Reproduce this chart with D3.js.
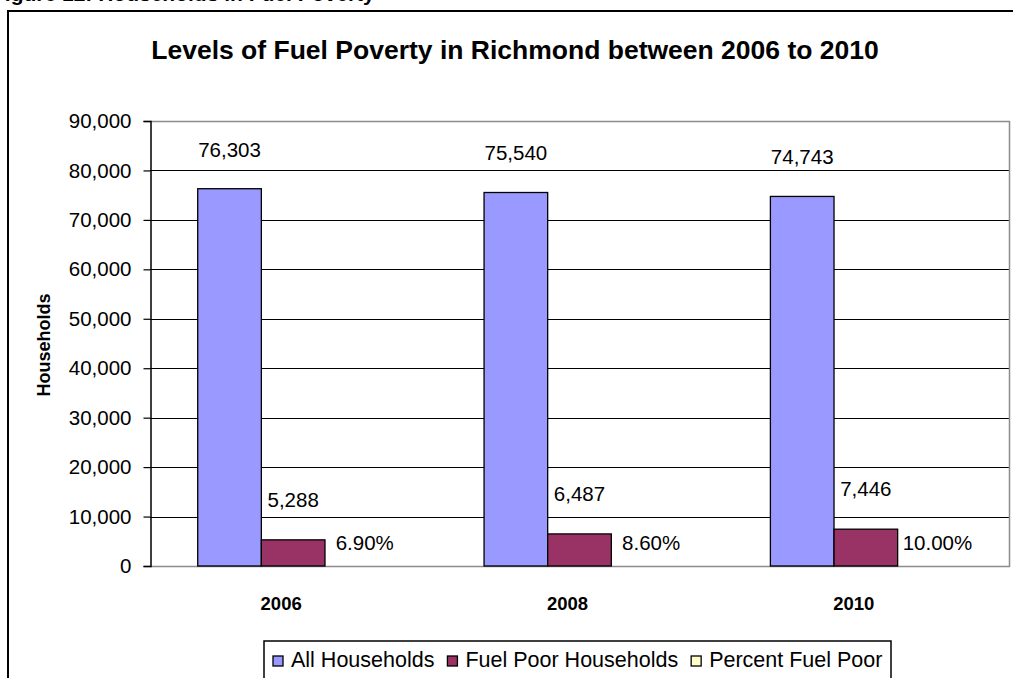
<!DOCTYPE html>
<html>
<head>
<meta charset="utf-8">
<script src="https://cdn.jsdelivr.net/npm/d3@7"></script>
<style>
  html, body { margin: 0; padding: 0; background: #fff; }
  svg { display: block; font-family: Arial, "Liberation Sans", sans-serif; }
</style>
</head>
<body>
<svg id="chart" width="1013" height="678"></svg>
<script>
// Fuel poverty in Richmond, 2006-2010
const years = ["2006", "2008", "2010"];
const allHouseholds = [76303, 75540, 74743];
const fuelPoorHouseholds = [5288, 6487, 7446];
const percentFuelPoor = [0.069, 0.086, 0.10];
const seriesNames = ["All Households", "Fuel Poor Households", "Percent Fuel Poor"];
const seriesColors = ["#9999FF", "#993366", "#FFFFCC"];
const yTicks = [0, 10000, 20000, 30000, 40000, 50000, 60000, 70000, 80000, 90000];

const svg = d3.select("#chart");
const fmtInt = d3.format(",");
const fmtPct = d3.format(".2%");

// page heading fragment above the chart frame
svg.append("text")
  .attr("x", -8).attr("y", 0.5)
  .attr("font-size", 21).attr("font-weight", "bold")
  .text("Figure 12: Households in Fuel Poverty");

// chart frame
svg.append("rect")
  .attr("x", 8).attr("y", 11).attr("width", 1030).attr("height", 700)
  .attr("fill", "#fff").attr("stroke", "#000").attr("stroke-width", 2);

svg.append("text")
  .attr("x", 515).attr("y", 59)
  .attr("text-anchor", "middle")
  .attr("font-size", 26.5).attr("font-weight", "bold")
  .text("Levels of Fuel Poverty in Richmond between 2006 to 2010");

const plot = { left: 150, right: 1009, top: 121, bottom: 566 };

const y = d3.scaleLinear().domain([0, 90000]).range([plot.bottom, plot.top]);
const x = d3.scaleBand().domain(years).range([plot.left, plot.right])
  .paddingInner(1 / 3).paddingOuter(1 / 6);
const xs = d3.scaleBand().domain(d3.range(3)).range([0, x.bandwidth()]);

// gridlines
svg.append("g").selectAll("line")
  .data(yTicks.filter(t => t > 0 && t < 90000))
  .join("line")
  .attr("x1", plot.left).attr("x2", plot.right)
  .attr("y1", d => Math.round(y(d)) + 0.5).attr("y2", d => Math.round(y(d)) + 0.5)
  .attr("stroke", "#000").attr("stroke-width", 1.2);

// plot area border (grey)
svg.append("path")
  .attr("d", `M${plot.left},${plot.top + 0.5}H${plot.right + 0.5}V${plot.bottom + 0.5}H${plot.left}`)
  .attr("fill", "none").attr("stroke", "#8c8c8c").attr("stroke-width", 1.5);

// bars
const rows = years.map((yr, i) => ({
  year: yr,
  values: [allHouseholds[i], fuelPoorHouseholds[i], percentFuelPoor[i]]
}));

const groups = svg.append("g").selectAll("g")
  .data(rows).join("g")
  .attr("transform", d => `translate(${x(d.year)},0)`);

groups.selectAll("rect")
  .data(d => d.values.map((v, k) => ({ v, k })))
  .join("rect")
  .attr("x", d => xs(d.k))
  .attr("y", d => y(d.v))
  .attr("width", xs.bandwidth())
  .attr("height", d => y(0) - y(d.v))
  .attr("fill", d => seriesColors[d.k])
  .attr("stroke", d => (y(0) - y(d.v)) > 1 ? "#000" : "none")
  .attr("stroke-width", 1.3);

// value labels
groups.selectAll("text.val")
  .data(d => d.values.map((v, k) => ({ v, k })))
  .join("text")
  .attr("class", "val")
  .attr("x", d => xs(d.k) + xs.bandwidth() / 2 + (d.k === 2 ? 8 : 0))
  .attr("y", d => y(d.v) - (d.k === 2 ? 16 : (d.k === 0 ? 32 : 33)))
  .attr("text-anchor", "middle")
  .attr("font-size", 20.5)
  .text(d => d.k === 2 ? fmtPct(d.v) : fmtInt(d.v));

// y axis
const yAxis = d3.axisLeft(y).tickValues(yTicks).tickSize(7).tickPadding(12)
  .tickFormat(d3.format(","));
const ya = svg.append("g").attr("transform", `translate(${plot.left + 0.5},0)`).call(yAxis);
ya.select(".domain").attr("stroke", "#000").attr("stroke-width", 1.5);
ya.selectAll(".tick line").attr("stroke", "#000").attr("stroke-width", 1.2);
ya.selectAll(".tick text").attr("font-size", 20.5).attr("fill", "#000")
  .attr("font-family", "Arial, 'Liberation Sans', sans-serif");

svg.append("text")
  .attr("transform", "translate(50,345) rotate(-90)")
  .attr("text-anchor", "middle")
  .attr("font-size", 18).attr("font-weight", "bold")
  .text("Households");

// category labels
svg.append("g").selectAll("text")
  .data(years).join("text")
  .attr("x", d => x(d) + x.bandwidth() / 2 - 12)
  .attr("y", 610)
  .attr("text-anchor", "middle")
  .attr("font-size", 18.5).attr("font-weight", "bold")
  .text(d => d);

// legend
const legend = svg.append("g");
legend.append("rect")
  .attr("x", 264).attr("y", 641).attr("width", 627).attr("height", 60)
  .attr("fill", "#fff").attr("stroke", "#000").attr("stroke-width", 1.5);
let lx = 273;
seriesNames.forEach((name, i) => {
  legend.append("rect")
    .attr("x", lx).attr("y", 656).attr("width", 10).attr("height", 10)
    .attr("fill", seriesColors[i]).attr("stroke", "#000").attr("stroke-width", 1.3);
  const t = legend.append("text")
    .attr("x", lx + 18).attr("y", 667)
    .attr("font-size", 21.5)
    .text(name);
  lx += 18 + t.node().getComputedTextLength() + 13;
});
</script>
</body>
</html>
